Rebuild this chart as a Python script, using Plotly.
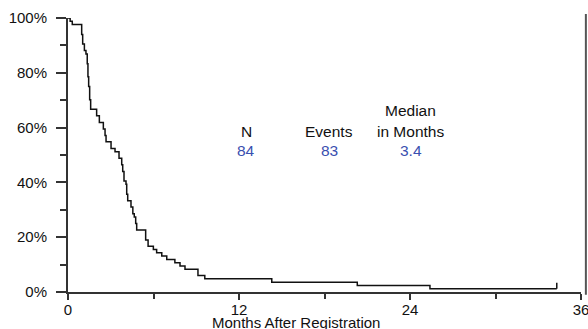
import plotly.graph_objects as go

# Kaplan-Meier step data (months, survival %)
times = [0.00, 0.15, 0.30, 0.96, 1.03, 1.15, 1.26, 1.35, 1.40, 1.45, 1.52, 1.59,
         2.01, 2.20, 2.48, 2.60, 2.67, 3.02, 3.30, 3.58, 3.77, 3.84, 3.93, 4.07,
         4.12, 4.19, 4.42, 4.55, 4.65, 4.75, 4.82, 5.45, 5.62, 5.99, 6.22, 6.58,
         6.93, 7.50, 7.86, 8.21, 9.12, 9.60, 14.30, 20.30, 25.40, 34.30]
survival = [100.0, 98.8, 97.6, 94.0, 90.5, 88.1, 86.9, 83.3, 78.6, 75.0, 70.2, 66.7,
            64.3, 61.9, 59.5, 57.1, 54.8, 52.4, 51.2, 48.8, 46.4, 44.0, 40.5, 39.3,
            35.7, 33.3, 31.0, 28.6, 27.4, 25.0, 22.6, 19.0, 16.7, 15.5, 14.3, 13.1,
            11.9, 10.7, 9.5, 8.3, 6.0, 4.8, 3.6, 2.4, 1.2, 1.2]
censor_times = [34.30]
censor_surv = [1.2]

x_ticks = [0, 12, 24, 36]
y_ticks = [0, 20, 40, 60, 80, 100]
y_tick_labels = ["0%", "20%", "40%", "60%", "80%", "100%"]

stat_headers_top = ["", "", "Median"]
stat_headers = ["N", "Events", "in Months"]
stat_values = ["84", "83", "3.4"]

FONT = "Liberation Sans, Arial, sans-serif"
BLUE = "#3a50b0"
AXIS = "#333333"

fig = go.Figure()
fig.add_trace(go.Scatter(x=times, y=survival, mode="lines",
                         line=dict(shape="hv", color="#111111", width=1.5),
                         hoverinfo="skip", showlegend=False))
# censor marks (small vertical tick rising from the curve)
for ct, cs in zip(censor_times, censor_surv):
    fig.add_trace(go.Scatter(x=[ct, ct], y=[cs, cs + 2.2], mode="lines",
                             line=dict(color="#111111", width=1.5),
                             hoverinfo="skip", showlegend=False))

fig.update_layout(
    width=588, height=329,
    margin=dict(l=68, r=7, t=18, b=37, autoexpand=False),
    paper_bgcolor="white", plot_bgcolor="white",
    font=dict(family=FONT, size=15, color="#111111"),
    showlegend=False,
    xaxis=dict(range=[0, 36], tickvals=x_ticks, ticktext=[str(v) for v in x_ticks],
               ticks="outside", ticklen=6, tickwidth=2, tickcolor=AXIS,
               minor=dict(dtick=6, ticks="outside", ticklen=5, tickwidth=2, tickcolor=AXIS),
               showline=True, linecolor=AXIS, linewidth=2, showgrid=False, zeroline=False,
               tickfont=dict(size=15, color="#111111"), ticklabeloverflow="allow",
               ticklabelstandoff=-3, automargin=False, fixedrange=True),
    yaxis=dict(range=[0, 100], tickvals=y_ticks, ticktext=y_tick_labels,
               ticks="outside", ticklen=10, tickwidth=2, tickcolor=AXIS,
               minor=dict(dtick=10, ticks="outside", ticklen=6, tickwidth=2, tickcolor=AXIS),
               showline=True, linecolor=AXIS, linewidth=2, showgrid=False, zeroline=False,
               tickfont=dict(size=15, color="#111111"), ticklabelstandoff=6,
               automargin=False, fixedrange=True),
)

# x-axis title
fig.add_annotation(text="Months After Registration", xref="paper", yref="paper",
                   x=0.445, y=-0.110, xanchor="center", yanchor="middle",
                   showarrow=False, font=dict(size=15, color="#111111"))

# statistics block
hx = [0.347, 0.509, 0.668]
for x, t, h, v in zip(hx, stat_headers_top, stat_headers, stat_values):
    if t:
        fig.add_annotation(text=t, xref="paper", yref="paper", x=x, y=0.662,
                           xanchor="center", yanchor="middle",
                           showarrow=False, font=dict(size=15.5, color="#111111"))
    fig.add_annotation(text=h, xref="paper", yref="paper", x=x, y=0.585,
                       xanchor="center", yanchor="middle",
                       showarrow=False, font=dict(size=15.5, color="#111111"))
    fig.add_annotation(text=v, xref="paper", yref="paper", x=x, y=0.516,
                       xanchor="center", yanchor="middle",
                       showarrow=False, font=dict(size=15.5, color=BLUE))

# right frame edge
fig.add_shape(type="line", xref="paper", yref="paper", x0=1.0095, x1=1.0095,
              y0=-0.01, y1=1.015, line=dict(color="#555555", width=2))

fig.write_html("out.html", config={"displayModeBar": False},
               post_script="document.body.style.margin='0';document.body.style.padding='0';")
